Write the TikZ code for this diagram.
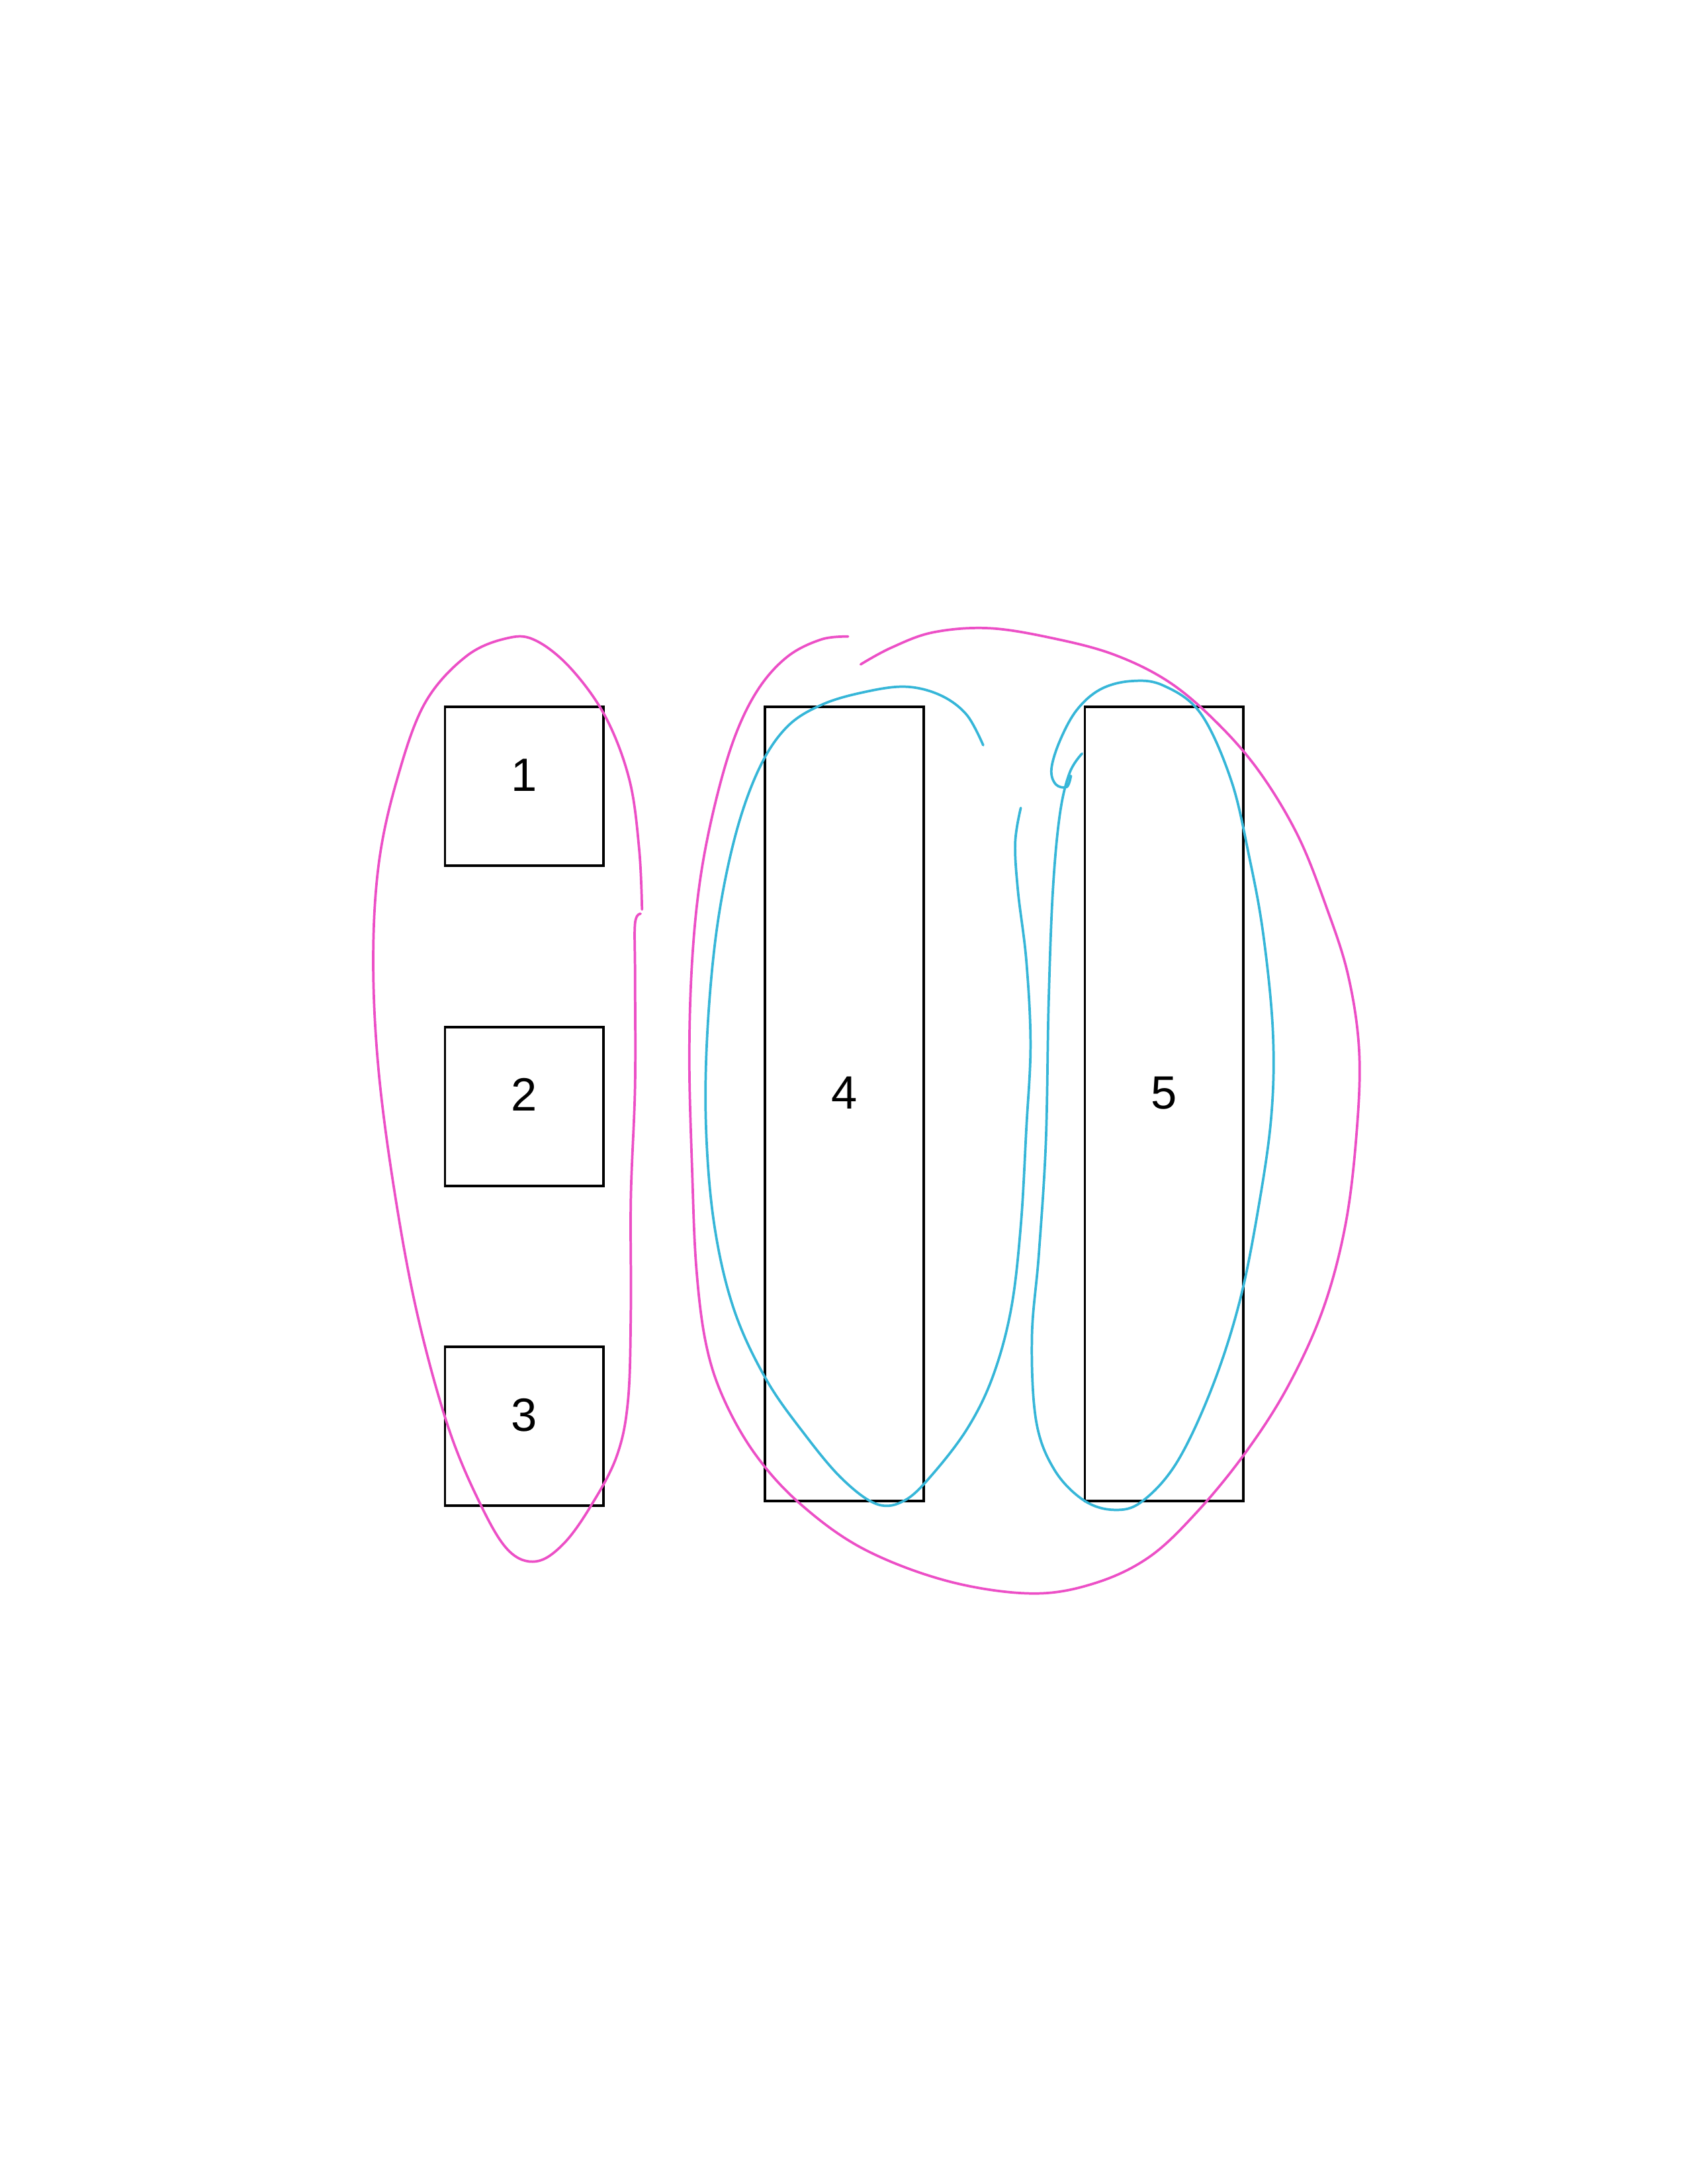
\documentclass[tikz,border=0pt]{standalone}
\usepackage{fontspec}
\newfontfamily\labelfont{Liberation Sans}
\usepackage{tikz}
\usetikzlibrary{positioning}
\usepackage{xcolor}
\definecolor{loopPink} {HTML}{EC4FC6}
\definecolor{loopCyan} {HTML}{36B6D8}
\tikzset{
  cell/.style     = {rectangle, draw=black, line width=0.9pt, inner sep=0pt,
                     minimum width=0.8in, minimum height=0.8in,
                     font=\labelfont\fontsize{17}{20}\selectfont,
                     text height=12pt, text depth=8.6pt},
  tallcell/.style = {cell, minimum height=4in},
  pinkloop/.style = {draw=loopPink, line width=0.9pt, line cap=round, line join=round},
  cyanloop/.style = {draw=loopCyan, line width=0.9pt, line cap=round, line join=round},
}

\begin{document}
\begin{tikzpicture}[x=0.0070132in, y=-0.0070132in]

\useasboundingbox (0,0) rectangle (1212,1568);

\node[cell] (one) at (376.5,564.6) {1};
\node[cell, below=0.8in of one] (two)   {2};
\node[cell, below=0.8in of two] (three) {3};
\node[tallcell, right=0.8in of one.north east, anchor=north west]  (four) {4};
\node[tallcell, right=0.8in of four.north east, anchor=north west] (five) {5};

\draw[pinkloop] plot[smooth, tension=0.6] coordinates {
  (460,656) (456,663) (456,700) (456,780) (453,860) (453,940) (451,1005)
  (443,1045) (425,1080) (405,1108) (385,1121) (365,1113) (345,1080)
  (322,1025) (300,945) (284,860) (272,770) (268,690) (272,620) (285,560)
  (305,505) (335,471) (365,458) (385,460) (410,480) (435,515) (452,560)
  (459,610) (461,653)};

\draw[pinkloop] plot[smooth, tension=0.6] coordinates {
  (609,457) (590,459) (566,471) (545,494) (528,528) (514,575) (503,630)
  (497,690) (495,760) (497,840) (500,910) (507,965) (520,1005) (543,1045)
  (575,1080) (620,1112) (680,1135) (740,1144) (785,1137) (825,1118)
  (860,1085) (895,1042) (925,995) (950,940) (966,880) (974,815) (976,755)
  (968,700) (952,650) (932,600) (905,555) (875,520) (840,490) (800,470)
  (755,458) (710,451) (670,454) (640,465) (618,477)};

\draw[cyanloop] plot[smooth, tension=0.6] coordinates {
  (706,535) (694,513) (675,499) (650,493) (620,497) (590,506) (565,522)
  (545,552) (528,600) (515,665) (508,740) (507,810) (513,880) (527,940)
  (550,990) (578,1030) (605,1062) (630,1080) (650,1077) (670,1058)
  (695,1025) (713,988) (726,940) (733,880) (737,810) (740,750) (737,690)
  (731,640) (729,605) (733,580)};

\draw[cyanloop] plot[smooth, tension=0.6] coordinates {
  (777,541) (768,555) (761,585) (756,640) (753,720) (751,820) (746,900)
  (741,960) (744,1020) (757,1055) (778,1077) (800,1084) (820,1078)
  (845,1050) (870,997) (890,935) (904,865) (913,800) (914,740) (907,670)
  (897,615) (884,560) (862,512) (835,492) (812,489) (790,495) (773,510)
  (761,532) (755,552) (758,563) (766,565) (769,557)};

\end{tikzpicture}
\end{document}
